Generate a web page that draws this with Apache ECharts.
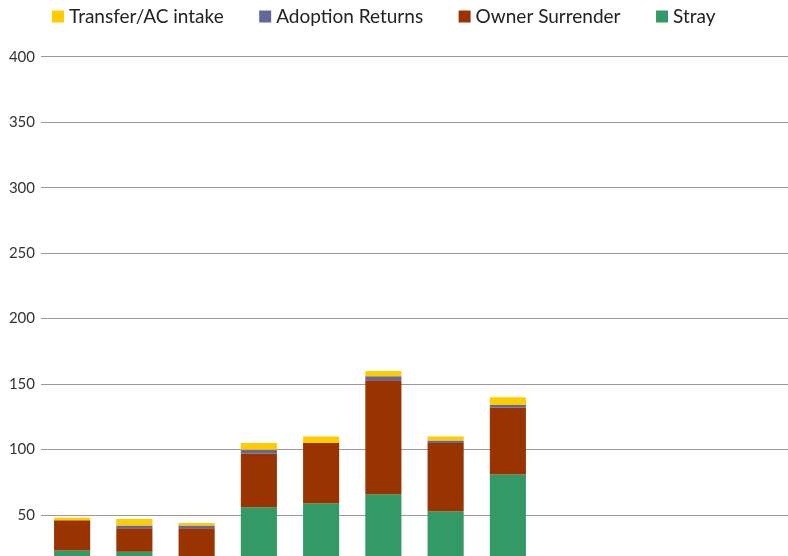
<!DOCTYPE html>
<html>
<head>
<meta charset="utf-8">
<script src="https://cdn.jsdelivr.net/npm/echarts@6/dist/echarts.min.js"></script>
<style>
html, body { margin: 0; padding: 0; overflow: hidden; background: #fff; width: 788px; height: 556px; }
#chart { width: 788px; height: 640px; }
</style>
</head>
<body>
<div id="chart"></div>
<script>
const categories = ['Jan', 'Feb', 'Mar', 'Apr', 'May', 'Jun', 'Jul', 'Aug', 'Sep', 'Oct', 'Nov', 'Dec'];
const stray = [23, 22, 15, 56, 59, 66, 53, 81, null, null, null, null];
const ownerSurrender = [23, 18, 25, 41, 46, 87, 52, 51, null, null, null, null];
const adoptionReturns = [0, 2, 2, 3, 0, 3, 2, 2, null, null, null, null];
const transferAC = [2, 5, 2, 5, 5, 4, 3, 6, null, null, null, null];
const yTicks = [50, 100, 150, 200, 250, 300, 350, 400];

const chart = echarts.init(document.getElementById('chart'), null, { renderer: 'canvas' });
const font = 'Lato, "Open Sans", sans-serif';
function mk(name, data, color) {
  return { name, type: 'bar', stack: 'total', data, barCategoryGap: '42%',
    itemStyle: { color }, emphasis: { disabled: true } };
}
chart.setOption({
  animation: false,
  legend: {
    left: 47, top: 2,
    itemWidth: 12, itemHeight: 12, itemGap: 35.5,
    icon: 'rect',
    textStyle: { fontFamily: font, fontSize: 19, color: '#222' },
    data: ['Transfer/AC intake', 'Adoption Returns', 'Owner Surrender', 'Stray']
  },
  grid: { left: 41, right: 0, top: 56.7, bottom: 59.4, containLabel: false },
  xAxis: {
    type: 'category', data: categories,
    axisTick: { show: false },
    axisLine: { lineStyle: { color: '#999' } },
    axisLabel: { fontFamily: font, fontSize: 15, color: '#333' }
  },
  yAxis: {
    type: 'value', min: 0, max: 400, interval: 50,
    axisLine: { show: false }, axisTick: { show: false },
    axisLabel: { fontFamily: font, fontSize: 15, color: '#333', margin: 6,
      formatter: v => (yTicks.includes(v) ? String(v) : (v === 0 ? '0' : '')) },
    splitLine: { lineStyle: { color: '#999', width: 1.2 } }
  },
  series: [
    mk('Stray', stray, '#339966'),
    mk('Owner Surrender', ownerSurrender, '#993300'),
    mk('Adoption Returns', adoptionReturns, '#666699'),
    mk('Transfer/AC intake', transferAC, '#FFCC00')
  ]
});
</script>
</body>
</html>
